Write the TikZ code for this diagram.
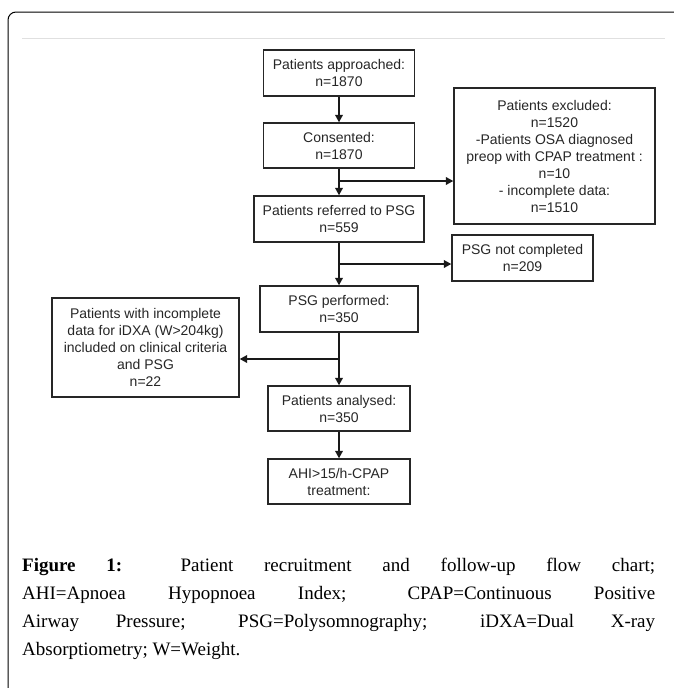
\documentclass[tikz,border=0pt]{standalone}
\usepackage{fontspec}
\setmainfont{Liberation Serif}
\newfontfamily\boxfont{Liberation Sans}
\usetikzlibrary{arrows.meta}
\begin{document}
\begin{tikzpicture}[x=1pt,y=-1pt,
  fbox/.style={draw=black!85,line width=1.3pt,inner sep=0pt,align=center,
    font=\boxfont\fontsize{14}{17}\selectfont,text=black!85},
  flow/.style={line width=2.2pt,black!90,-{Triangle[length=7.5pt,width=7.5pt]}}]
\useasboundingbox (0,0) rectangle (673,688);
% outer frame
\draw[line width=1pt,rounded corners=8pt] (8,700) -- (8,12) -- (680,12);
\draw[black!12,line width=0.8pt] (22,38) -- (665,38);
% boxes
\node[fbox,minimum width=151pt,minimum height=46pt] (b1) at (339,73) {Patients approached:\\n=1870};
\node[fbox,minimum width=151pt,minimum height=45pt] (b2) at (339,145.5) {Consented:\\n=1870};
\node[fbox,minimum width=170pt,minimum height=46pt] (b3) at (339,219) {Patients referred to PSG\\n=559};
\node[fbox,minimum width=201pt,minimum height=136pt] (ex) at (554.5,156) {Patients excluded:\\n=1520\\-Patients OSA diagnosed\\preop with CPAP treatment :\\n=10\\- incomplete data:\\n=1510};
\node[fbox,minimum width=141pt,minimum height=46pt] (nc) at (522.5,258) {PSG not completed\\n=209};
\node[fbox,minimum width=158pt,minimum height=46pt] (b4) at (339,309) {PSG performed:\\n=350};
\node[fbox,minimum width=187pt,minimum height=99pt] (lf) at (145.5,347.5) {Patients with incomplete\\data for iDXA (W>204kg)\\included on clinical criteria\\and PSG\\n=22};
\node[fbox,minimum width=142pt,minimum height=45pt] (b5) at (339,408.5) {Patients analysed:\\n=350};
\node[fbox,minimum width=142pt,minimum height=45pt] (b6) at (339,481.5) {AHI>15/h-CPAP\\treatment:};
% connectors
\coordinate (j1) at (339,181);
\coordinate (j2) at (339,264);
\coordinate (j3) at (339,359);
\draw[flow] (b1.south) -- (b2.north);
\draw[flow] (b2.south) -- (b3.north);
\draw[flow] (j1) -- (j1 -| ex.west);
\draw[flow] (b3.south) -- (b4.north);
\draw[flow] (j2) -- (j2 -| nc.west);
\draw[flow] (b4.south) -- (b5.north);
\draw[flow] (j3) -- (j3 -| lf.east);
\draw[flow] (b5.south) -- (b6.north);
% caption
\node[anchor=north west,inner sep=0pt,text width=633pt,align=justify,
  font=\fontsize{19}{28}\selectfont] (cap) at (22,558)
  {\hyphenpenalty=10000\exhyphenpenalty=10000\textbf{Figure 1:} Patient recruitment and follow-up flow chart;\linebreak AHI=Apnoea Hypopnoea Index; CPAP=Continuous Positive\linebreak Airway Pressure; PSG=Polysomnography; iDXA=Dual X-ray\linebreak Absorptiometry; W=Weight.};
\end{tikzpicture}
\end{document}
